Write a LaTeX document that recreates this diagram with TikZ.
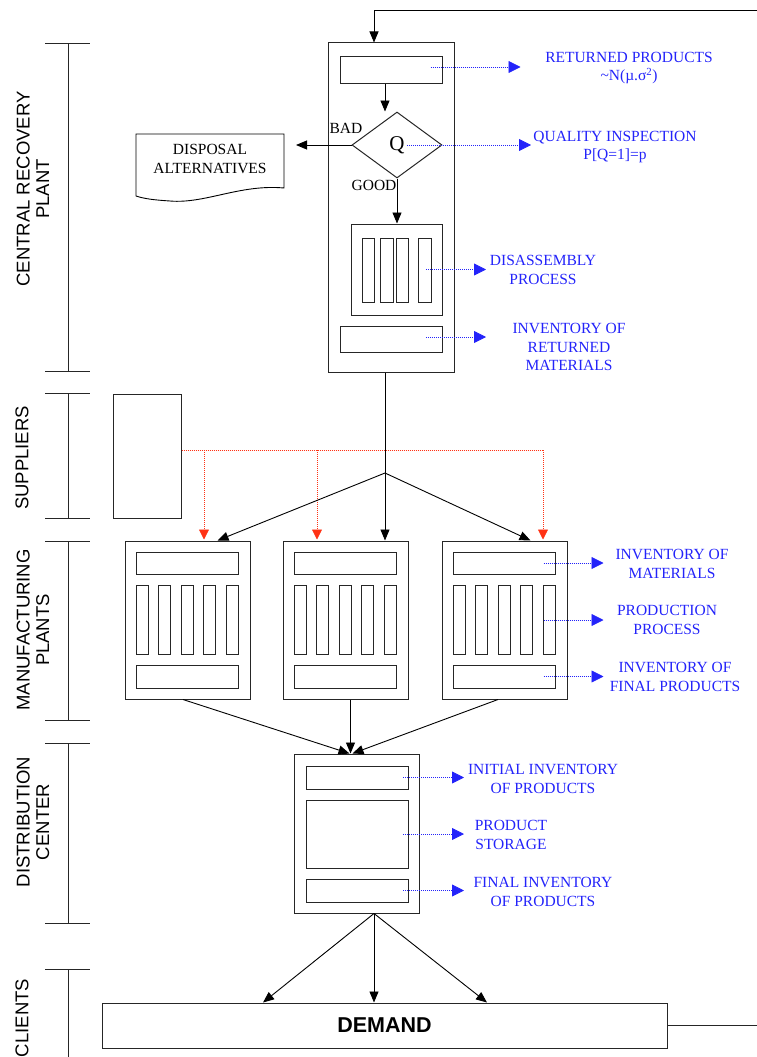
\documentclass[tikz,border=0pt]{standalone}
\usepackage{fontspec}
\setmainfont{Liberation Serif}
\setsansfont{Liberation Sans}
\usetikzlibrary{arrows.meta,shapes.geometric,calc}
\definecolor{lblue}{RGB}{35,35,250}
\definecolor{lred}{RGB}{255,50,20}
\tikzset{
  box/.style={draw=black!85, line width=1pt, inner sep=0pt},
  line/.style={draw=black!85, line width=1pt},
  arr/.style={draw=black, line width=0.9pt, -{Triangle[length=11pt,width=9pt]}},
  info/.style={draw=lblue, line width=0.8pt, dash pattern=on 1pt off 1pt, -{Triangle[length=12pt,width=12pt]}},
  redinfo/.style={draw=lred, line width=0.8pt, dash pattern=on 1pt off 1pt},
  redarr/.style={redinfo, -{Triangle[length=10pt,width=10pt]}},
  lbl/.style={text=lblue, font=\fontsize{15.5}{18.5}\selectfont, align=center, inner sep=0pt},
  blk/.style={font=\fontsize{15.5}{18.5}\selectfont, align=center, inner sep=0pt},
  side/.style={rotate=90, font=\sffamily\fontsize{18.5}{19.5}\selectfont, align=center, inner sep=0pt},
}
\begin{document}
\begin{tikzpicture}[x=1pt,y=-1pt]
\useasboundingbox (0,0) rectangle (757,1057);

% ---- side brackets
\foreach \a/\b in {44/371, 393/518, 541/720, 743/923} {
  \draw[line] (68,\a) -- (68,\b);
  \draw[line] (45,\a) -- (90,\a);
  \draw[line] (45,\b) -- (90,\b);
}
\draw[line] (68,969) -- (68,1057);
\draw[line] (45,969) -- (90,969);
\node[side] (sCRP) at (33,189) {CENTRAL RECOVERY\\PLANT};
\node[side] (sSUP) at (22,458) {SUPPLIERS};
\node[side] (sMAN) at (33,630) {MANUFACTURING\\PLANTS};
\node[side] (sDIS) at (33,822) {DISTRIBUTION\\CENTER};
\node[side] (sCLI) at (22,1018) {CLIENTS};

% ---- central recovery plant
\node[box, minimum width=126, minimum height=329] (recov) at (391,207.5) {};
\node[box, minimum width=102, minimum height=26] (rp) at (391,70) {};
\node[box, diamond, minimum width=90, minimum height=66, font=\fontsize{21}{24}\selectfont] (Q) at (397,145) {Q};
\node[box, minimum width=91, minimum height=91] (dis) at (396.5,269.5) {};
\foreach \cx/\w [count=\k] in {368/12, 386.5/13, 402/12, 424.5/13}
  \node[box, minimum width=\w, minimum height=64] (db\k) at (\cx,270) {};
\node[box, minimum width=102, minimum height=26] (inv) at (391,339) {};

\node[blk, anchor=center] (bad) at (346,128) {BAD};
\node[blk, anchor=center] (good) at (374,185) {GOOD};

% disposal document shape
\draw[line width=0.9pt] (136,134) -- (284,134) -- (284,188)
  .. controls (240,184) and (205,204) .. (170,201)
  .. controls (155,200) and (145,199) .. (136,196) -- cycle;
\node[blk] (disp) at (210,159) {DISPOSAL\\ALTERNATIVES};
\coordinate (dispin) at (296,145);

% feedback loop
\coordinate (fbin) at (757,10);
\draw[arr] (fbin) -| ([xshift=-17pt]recov.north);
\draw[arr] ([xshift=-6pt]rp.south) -- ([xshift=-6pt]rp.south |- Q.north);
\draw[arr] (Q.west) -- (dispin);
\draw[arr] (Q.south) -- (Q.south |- dis.north);

% blue annotations (recovery)
\node[lbl] (l1) at (629,68) {RETURNED PRODUCTS\\\textasciitilde N(µ.σ\textsuperscript{2})};
\draw[info] ([shift={(-12pt,3pt)}]rp.east) -- ++(90,0);
\node[lbl] (l2) at (615,147) {QUALITY INSPECTION\\P[Q=1]=p};
\draw[info] ([xshift=10pt]Q.center) -- ++(124,0);
\node[lbl] (l3) at (543,270) {DISASSEMBLY\\PROCESS};
\draw[info] ([xshift=29.5pt]dis.center) -- ++(60,0);
\node[lbl] (l4) at (569,347) {INVENTORY OF\\RETURNED\\MATERIALS};
\draw[info] ([shift={(35pt,2pt)}]inv.center) -- ++(60,0);

% ---- suppliers
\node[box, minimum width=68, minimum height=124] (sup) at (147,456) {};

% ---- manufacturing plants
\foreach \i/\cx in {1/187.5, 2/345.5, 3/504.5} {
  \node[box, minimum width=125, minimum height=158] (p\i) at (\cx,620) {};
  \node[box, minimum width=102, minimum height=22] (p\i top) at (\cx-0.5,563) {};
  \foreach \o [count=\k] in {-45.5,-23,-0.5,22,44.5}
    \node[box, minimum width=12, minimum height=69] (p\i b\k) at (\cx+\o,619.5) {};
  \node[box, minimum width=102, minimum height=23] (p\i bot) at (\cx-0.5,676.5) {};
}

% supplier red dotted links
\coordinate (r1) at (204,450);
\coordinate (r2) at (317,450);
\coordinate (r3) at (543,450);
\draw[redinfo] ([yshift=6pt]sup.east) -- (r3);
\draw[redarr] (r1) -- ([yshift=1pt]r1 |- p1.north);
\draw[redarr] (r2) -- ([yshift=1pt]r2 |- p2.north);
\draw[redarr] (r3) -- ([yshift=1pt]r3 |- p3.north);

% recovery to plants
\coordinate (jn) at (385,473);
\draw[arr] ([xshift=-6pt]recov.south) -- ([xshift=-6pt]recov.south |- p2.north);
\draw[arr] (jn) -- ([xshift=30pt]p1.north);
\draw[arr] (jn) -- ([xshift=26pt]p3.north);

% plant annotations
\node[lbl] (l5) at (672,564) {INVENTORY OF\\MATERIALS};
\draw[info] ([xshift=39.5pt]p3top.center) -- ++(60,0);
\node[lbl] (l6) at (667,620) {PRODUCTION\\PROCESS};
\draw[info] ([xshift=39pt]p3.center) -- ++(60,0);
\node[lbl] (l7) at (675,677) {INVENTORY OF\\FINAL PRODUCTS};
\draw[info] ([xshift=39.5pt]p3bot.center) -- ++(60,0);

% ---- distribution center
\node[box, minimum width=125, minimum height=159] (dist) at (356.5,833.5) {};
\node[box, minimum width=102, minimum height=23] (dinit) at (357,777.5) {};
\node[box, minimum width=102, minimum height=68] (dstor) at (357,834) {};
\node[box, minimum width=102, minimum height=23] (dfin) at (357,890.5) {};

\draw[arr] ([xshift=-4.5pt]p1.south) -- ([xshift=-7pt]dist.north);
\draw[arr] ([xshift=5pt]p2.south) -- ([xshift=-6pt]dist.north);
\draw[arr] ([xshift=-6.5pt]p3.south) -- ([xshift=-4pt]dist.north);

\node[lbl] (l8) at (543,779) {INITIAL INVENTORY\\OF PRODUCTS};
\draw[info] ([xshift=46pt]dinit.center) -- ++(61,0);
\node[lbl] (l9) at (511,835) {PRODUCT\\STORAGE};
\draw[info] ([xshift=46pt]dstor.center) -- ++(61,0);
\node[lbl] (l10) at (543,892) {FINAL INVENTORY\\OF PRODUCTS};
\draw[info] ([xshift=46pt]dfin.center) -- ++(61,0);

% ---- demand
\node[box, minimum width=565, minimum height=45, font=\sffamily\bfseries\fontsize{21.5}{23}\selectfont] (demand) at (384.5,1025.5) {DEMAND};
\draw[arr] ([xshift=17.5pt]dist.south) -- ([xshift=-121.5pt]demand.north);
\draw[arr] ([xshift=17.5pt]dist.south) -- ([xshift=-10.5pt]demand.north);
\draw[arr] ([xshift=17.5pt]dist.south) -- ([xshift=102.5pt]demand.north);
\coordinate (fbout) at (757,1025.5);
\draw[line] (demand.east) -- (fbout);
\end{tikzpicture}
\end{document}
